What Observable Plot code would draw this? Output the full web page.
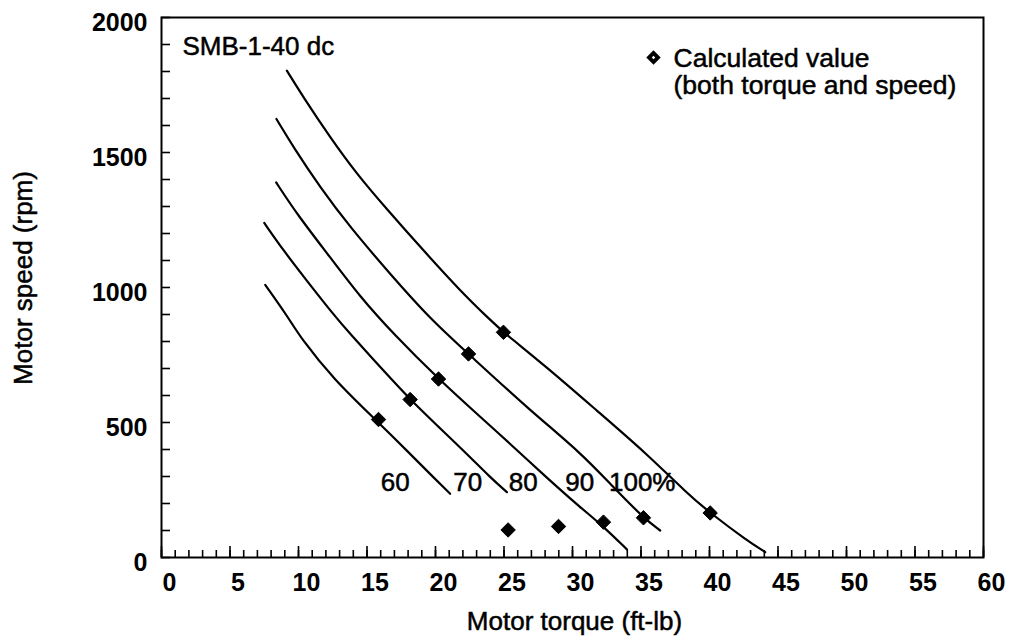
<!DOCTYPE html>
<html>
<head>
<meta charset="utf-8">
<script src="https://cdn.jsdelivr.net/npm/d3@7"></script>
<script src="https://cdn.jsdelivr.net/npm/@observablehq/plot@0.6"></script>
<style>
  body { margin: 0; background: #fff; }
  #chart svg { display: block; }
</style>
</head>
<body>
<div id="chart"></div>
<script>
// ---- Data ----
const levels = ["60", "70", "80", "90", "100%"];

const torque60 = [7.57, 9.27, 10.12, 12.55, 15.84, 17.91, 19.85, 21.07];
const speed60  = [1010, 888, 816, 660, 500, 396, 297, 236];

const torque70 = [7.5, 8.9, 10.61, 12.55, 13.77, 16.2, 18.15, 20.1, 22.29, 23.99, 25.21];
const speed70  = [1239, 1137, 1025, 900, 828, 692, 585, 490, 384, 297, 242];

const torque80 = [8.37, 9.88, 12.31, 14.5, 16.93, 20.22, 23.02, 25.45, 28.13, 30.56, 32.26, 33.97];
const speed80  = [1389, 1272, 1112, 965, 828, 661, 532, 421, 295, 186, 115, 30];

const torque90 = [8.39, 9.64, 11.58, 13.77, 16.69, 19.61, 22.41, 26.91, 30.56, 32.99, 35.18, 36.4];
const speed90  = [1624, 1519, 1371, 1223, 1050, 884, 754, 544, 390, 260, 147, 100];

const torque100 = [9.15, 10.36, 12.31, 14.26, 16.45, 19.12, 21.8, 23.99, 24.96, 28.13, 31.78, 35.43, 38.35, 40.05, 42.73, 44.07];
const speed100  = [1803, 1704, 1556, 1420, 1290, 1137, 988, 880, 834, 705, 544, 384, 238, 165, 63, 20];

// Calculated values (diamonds)
const calcTorque = [15.84, 18.15, 20.22, 22.41, 24.96, 25.3, 28.98, 32.26, 35.18, 40.05];
const calcSpeed  = [511, 585, 661, 754, 834, 102, 115, 131, 147, 165];

// Curve label anchor positions (torque, speed)
const labelTorque = [17.06, 22.35, 26.41, 30.53, 35.09];
const labelSpeed  = [278, 278, 278, 278, 278];

// Tick labels
const xTickLabels = [0, 5, 10, 15, 20, 25, 30, 35, 40, 45, 50, 55, 60];
const yTickLabels = [0, 500, 1000, 1500, 2000];
const xMinorTicks = d3.range(0, 61, 1);
const yMinorTicks = d3.range(0, 2001, 100);

const titleText = "SMB-1-40 dc";
const legendText = "Calculated value\n(both torque and speed)";
const xLabel = "Motor torque (ft-lb)";
const yLabel = "Motor speed (rpm)";

// ---- Build tables ----
const seriesT = [torque60, torque70, torque80, torque90, torque100];
const seriesS = [speed60, speed70, speed80, speed90, speed100];
const curves = levels.flatMap((lv, k) =>
  seriesT[k].map((t, i) => ({level: lv, torque: t, speed: seriesS[k][i]})));
const calc = calcTorque.map((t, i) => ({torque: t, speed: calcSpeed[i]}));
const curveLabels = levels.map((lv, i) => ({text: lv, torque: labelTorque[i], speed: labelSpeed[i]}));

const font = "'Liberation Sans', Arial, Helvetica, sans-serif";
const ink = {fill: "black", stroke: "black", strokeWidth: 0.5};

const chart = Plot.plot({
  width: 1009,
  height: 641,
  marginLeft: 161,
  marginRight: 26,
  marginTop: 17,
  marginBottom: 84,
  x: {domain: [0, 60]},
  y: {domain: [0, 2000]},
  style: {fontFamily: font, background: "white", color: "black", overflow: "visible"},
  marks: [
    Plot.frame({stroke: "black", strokeWidth: 2}),
    // x ticks (inward)
    Plot.axisX(xMinorTicks, {tickSize: -7, tickFormat: () => "", strokeWidth: 1.6, label: null}),
    Plot.axisX(xTickLabels, {tickSize: -11, tickFormat: () => "", strokeWidth: 1.6, label: null}),
    Plot.axisX(xTickLabels, {tickSize: 0, tickPadding: 16, dx: 8, fontSize: 25, fontWeight: "bold", tickFormat: (d) => String(d), label: null}),
    // y ticks (inward)
    Plot.axisY(yMinorTicks, {tickSize: -9, tickFormat: () => "", strokeWidth: 1.6, label: null}),
    Plot.axisY(yTickLabels, {tickSize: 0, tickPadding: 14, dy: 5, fontSize: 25, fontWeight: "bold", tickFormat: (d) => String(d), label: null}),
    // curves
    Plot.line(curves, {x: "torque", y: "speed", z: "level", curve: "basis", stroke: "black", strokeWidth: 2.2}),
    // calculated values
    Plot.dot(calc, {x: "torque", y: "speed", symbol: "diamond2", r: 6.5, fill: "black", stroke: "black", strokeWidth: 1}),
    // curve labels
    Plot.text(curveLabels, {x: "torque", y: "speed", text: "text", fontSize: 26, lineAnchor: "middle", ...ink}),
    // title
    Plot.text([titleText], {frameAnchor: "top-left", dx: 21, dy: 29, textAnchor: "start", lineAnchor: "middle", fontSize: 26, ...ink}),
    // legend
    Plot.dot([legendText], {frameAnchor: "top-right", dx: -330, dy: 40, symbol: "diamond2", r: 6.5, fill: "black"}),
    Plot.dot([legendText], {frameAnchor: "top-right", dx: -330, dy: 40, symbol: "diamond2", r: 1.6, fill: "white"}),
    Plot.text([legendText], {frameAnchor: "top-right", dx: -310, dy: 54, textAnchor: "start", lineAnchor: "middle", lineHeight: 1.03, fontSize: 26.5, ...ink}),
    // axis titles
    Plot.text([xLabel], {frameAnchor: "bottom", dx: 2, dy: 64, textAnchor: "middle", lineAnchor: "middle", fontSize: 26, ...ink}),
    Plot.text([yLabel], {frameAnchor: "left", rotate: -90, dx: -138, dy: -9.5, textAnchor: "middle", lineAnchor: "middle", fontSize: 26, ...ink})
  ]
});

document.getElementById("chart").appendChild(chart);
</script>
</body>
</html>
